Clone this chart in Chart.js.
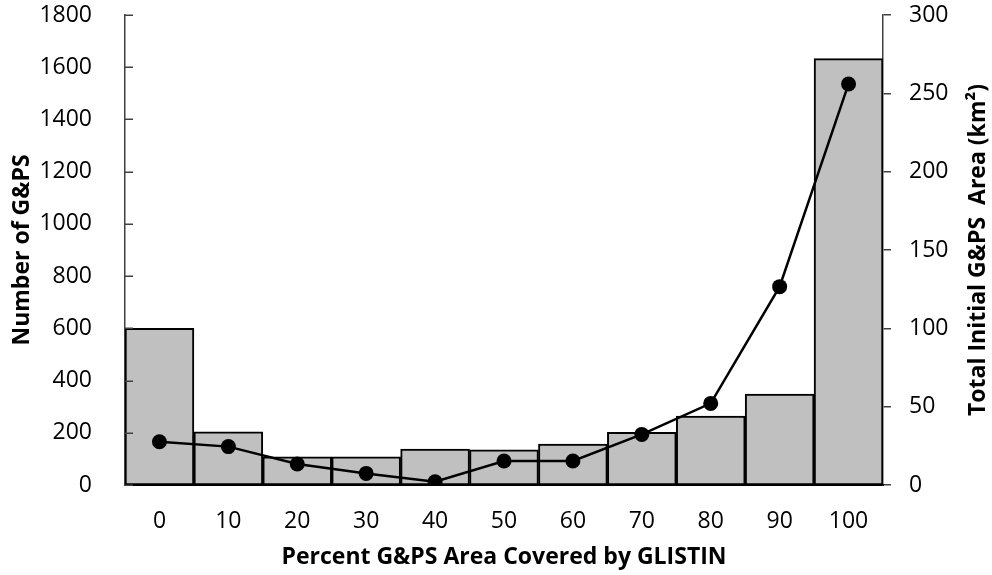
<!DOCTYPE html>
<html>
<head>
<meta charset="utf-8">
<script src="https://cdn.jsdelivr.net/npm/chart.js@4/dist/chart.umd.min.js"></script>
<style>
  html, body { margin: 0; padding: 0; background: #ffffff; }
  canvas { display: block; }
</style>
</head>
<body>
<canvas id="chart" width="992" height="575"></canvas>
<script>
// Coverage classes (percent of G&PS area covered by GLISTIN)
const coverageLabels = ['0', '10', '20', '30', '40', '50', '60', '70', '80', '90', '100'];
// Number of G&PS in each class (left axis)
const gpsCounts = [600, 204, 108, 108, 138, 135, 157, 202, 264, 348, 1633];
// Total initial G&PS area in km² for each class (right axis)
const initialAreaKm2 = [27.6, 24.5, 13.4, 7.4, 2.1, 15.3, 15.3, 32.3, 52.1, 126.6, 256];

const countTicks = { min: 0, max: 1800, step: 200 };
const areaTicks = { min: 0, max: 300, step: 50 };

const FONT = "'Open Sans', 'Liberation Sans', sans-serif";
const AXIS_GREY = '#404040';
const TITLE_SIZE = 23;

const plainNumber = (v) => String(v);

// Inward tick marks on the left axis and the bottom-to-top right axis title
const axisExtrasPlugin = {
  id: 'axisExtras',
  afterDraw(chart) {
    const { ctx, chartArea } = chart;
    const left = chart.scales.yCount;
    ctx.save();
    ctx.strokeStyle = AXIS_GREY;
    ctx.lineWidth = 1.5;
    left.ticks.forEach((t) => {
      const y = Math.round(left.getPixelForValue(t.value)) + 0.25;
      ctx.beginPath();
      ctx.moveTo(chartArea.left, y);
      ctx.lineTo(chartArea.left + 8, y);
      ctx.stroke();
    });
    ctx.restore();

    ctx.save();
    ctx.translate(978, (chartArea.top + chartArea.bottom) / 2);
    ctx.rotate(-Math.PI / 2);
    ctx.font = 'bold ' + TITLE_SIZE + 'px ' + FONT;
    ctx.fillStyle = '#000';
    ctx.textAlign = 'center';
    ctx.textBaseline = 'middle';
    ctx.fillText('Total Initial G&PS  Area (km\u00B2)', 0, 0);
    ctx.restore();
  }
};

function pinSize(prop, value) {
  return function (scale) {
    scale[prop] = value;
    scale.paddingTop = 0;
    scale.paddingBottom = 0;
    scale.paddingLeft = 0;
    scale.paddingRight = 0;
  };
}

new Chart(document.getElementById('chart'), {
  data: {
    labels: coverageLabels,
    datasets: [
      {
        type: 'line',
        label: 'Total Initial G&PS Area',
        data: initialAreaKm2,
        yAxisID: 'yArea',
        borderColor: '#000',
        borderWidth: 2.5,
        pointRadius: 7.5,
        pointBackgroundColor: '#000',
        pointBorderColor: '#000',
        pointBorderWidth: 0,
        tension: 0,
        order: 0
      },
      {
        type: 'bar',
        label: 'Number of G&PS',
        data: gpsCounts,
        yAxisID: 'yCount',
        backgroundColor: '#c0c0c0',
        borderColor: '#000',
        borderWidth: 2,
        borderSkipped: false,
        barPercentage: 1,
        categoryPercentage: 1,
        order: 1
      }
    ]
  },
  options: {
    responsive: false,
    animation: false,
    devicePixelRatio: 1,
    layout: { padding: { top: 15, left: 0, right: 0, bottom: 0 } },
    plugins: {
      legend: { display: false },
      tooltip: { enabled: false }
    },
    scales: {
      x: {
        type: 'category',
        offset: true,
        grid: { display: false },
        border: { display: true, color: '#000', width: 2 },
        ticks: {
          color: '#000',
          padding: 15,
          font: { family: FONT, size: 23 }
        },
        title: {
          display: true,
          text: 'Percent G&PS Area Covered by GLISTIN',
          color: '#000',
          font: { family: FONT, size: TITLE_SIZE, weight: 'bold' },
          padding: { top: 0, bottom: 4 }
        },
        afterFit: pinSize('height', 90)
      },
      yCount: {
        type: 'linear',
        position: 'left',
        min: countTicks.min,
        max: countTicks.max,
        grid: { display: false },
        border: { display: true, color: AXIS_GREY, width: 1.5 },
        ticks: {
          stepSize: countTicks.step,
          color: '#000',
          padding: 25,
          callback: plainNumber,
          font: { family: FONT, size: 23 }
        },
        title: {
          display: true,
          text: 'Number of G&PS',
          color: '#000',
          font: { family: FONT, size: TITLE_SIZE, weight: 'bold' },
          padding: { top: 9, bottom: 0 }
        },
        afterFit: pinSize('width', 125)
      },
      yArea: {
        type: 'linear',
        position: 'right',
        min: areaTicks.min,
        max: areaTicks.max,
        grid: {
          display: true,
          drawOnChartArea: false,
          drawTicks: true,
          tickLength: 8,
          color: AXIS_GREY,
          lineWidth: 1.5
        },
        border: { display: true, color: AXIS_GREY, width: 1.5 },
        ticks: {
          stepSize: areaTicks.step,
          color: '#000',
          padding: 18,
          callback: plainNumber,
          font: { family: FONT, size: 23 }
        },
        afterFit: pinSize('width', 109)
      }
    }
  },
  plugins: [axisExtrasPlugin]
});
</script>
</body>
</html>
